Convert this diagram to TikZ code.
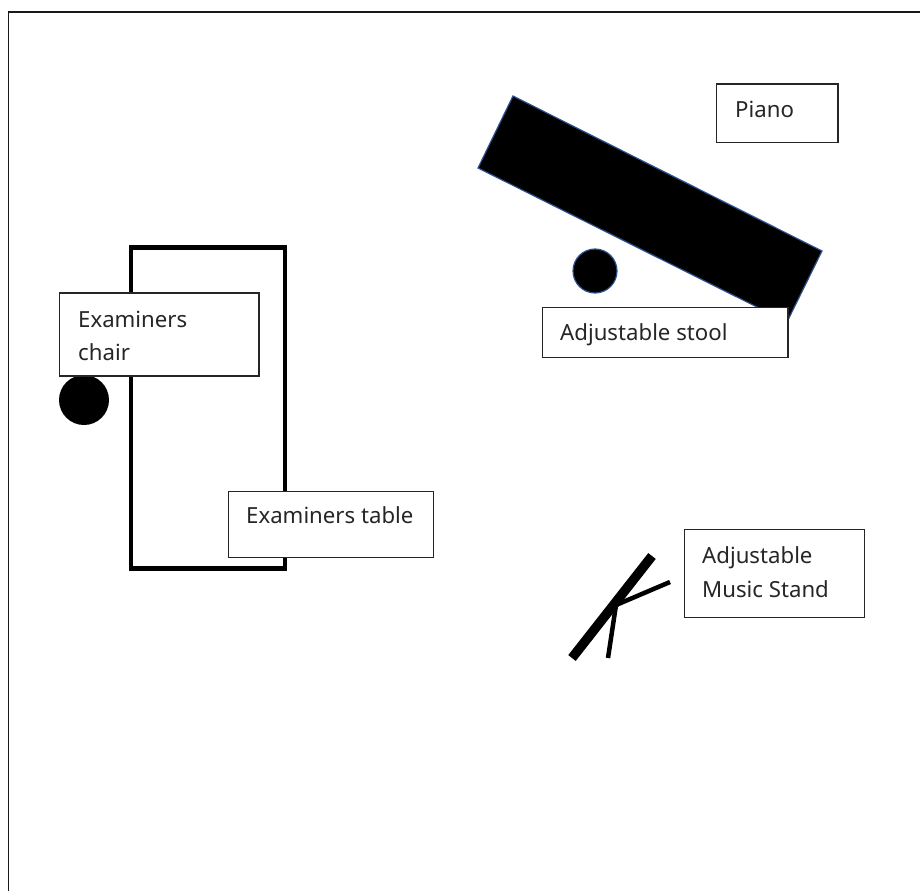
\documentclass[tikz,border=0pt]{standalone}
\usepackage{fontspec}
\setmainfont{Noto Sans}
\definecolor{shapeedge}{HTML}{2F528F}
\tikzset{
  px/.style={x=1pt,y=-1pt},
  label box/.style={draw=black!85,line width=1.4pt,fill=white,inner sep=0pt,outer sep=0pt,anchor=north west},
  label text/.style={font=\fontsize{22.2}{25}\selectfont,text=black!85,align=left,anchor=base west,inner sep=0pt},
  solid shape/.style={fill=black,draw=shapeedge,line width=1.2pt}
}
\begin{document}
\begin{tikzpicture}[px]
\useasboundingbox (0,0) rectangle (920,891);
\fill[white] (0,0) rectangle (920,891);
\coordinate (fbl) at (8.5,891);
\coordinate (ftl) at (8.5,12);
\coordinate (ftr) at (920,12);
\draw[line width=1.6pt,black!90] (fbl) -- (ftl) -- (ftr);
% piano
\draw[solid shape] (513,96) -- (822,251) -- (787,322) -- (478,168) -- cycle;
\node[solid shape,circle,minimum size=44pt,inner sep=0pt] (stool) at (595,271) {};
% table
\draw[line width=4.5pt,black] (131,247.7) rectangle (285,568.3);
% chair
\node[circle,fill=black,minimum size=50pt,inner sep=0pt] (chair) at (84,400) {};
% stand
\coordinate (s1) at (572,658);
\coordinate (s2) at (652,556);
\coordinate (s3) at (616,605);
\coordinate (s4) at (670,582);
\coordinate (s5) at (608,658);
\draw[line width=9.5pt] (s1) -- (s2);
\draw[line width=4.5pt] (s3) -- (s4);
\draw[line width=4.5pt] (s3) -- (s5);
% labels
\node[label box,minimum width=121.5pt,minimum height=58.5pt] (pianobox) at (716.5,84) {};
\node[label text] (pianotext) at (735,117) {Piano};
\node[label box,minimum width=245.5pt,minimum height=50pt] (stoolbox) at (542.3,307.5) {};
\node[label text] (stooltext) at (560,340) {Adjustable stool};
\node[label box,minimum width=199.5pt,minimum height=83pt] (chairbox) at (59.5,292.8) {};
\node[label text] (chairtext) at (78,327) {Examiners};
\node[label text] (chairtext2) at (78,360) {chair};
\node[label box,minimum width=205pt,minimum height=66pt] (tablebox) at (228.2,491.7) {};
\node[label text] (tabletext) at (246,523) {Examiners table};
\node[label box,minimum width=180pt,minimum height=88pt] (standbox) at (684.5,529.5) {};
\node[label text] (standtext) at (702,563) {Adjustable};
\node[label text] (standtext2) at (702,597) {Music Stand};
\end{tikzpicture}
\end{document}
